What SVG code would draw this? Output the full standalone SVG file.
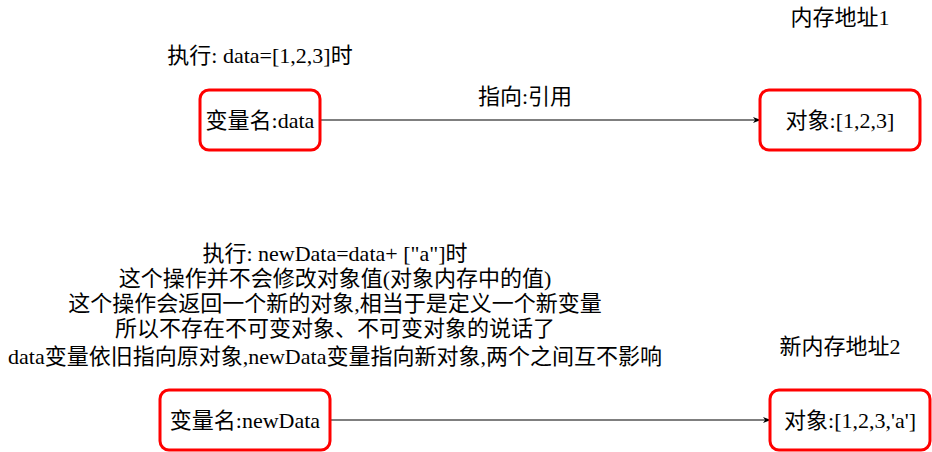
<svg xmlns="http://www.w3.org/2000/svg" width="932" height="452" viewBox="0 0 932 452">
<defs>
<style>
text{font-family:"Liberation Serif","Noto Sans CJK SC",serif;font-size:22px;fill:#000;text-anchor:middle}
.box{fill:#fff;stroke:#ff0000;stroke-width:3}
.edge{stroke:#000;stroke-width:1.2;fill:none}
</style>
<marker id="arr" viewBox="0 0 10 10" refX="9" refY="5" markerWidth="8" markerHeight="8" orient="auto" markerUnits="userSpaceOnUse">
<path d="M0,1 L10,5 L0,9 L3,5 Z" fill="#000"/>
</marker>
</defs>
<rect width="932" height="452" fill="#fff"/>
<g id="connectors">
<line class="edge" x1="320" y1="120" x2="760" y2="120" marker-end="url(#arr)"/>
<line class="edge" x1="330" y1="420" x2="770" y2="420" marker-end="url(#arr)"/>
</g>
<g id="label-exec1"><text x="260" y="63">执行: data=[1,2,3]时</text></g>
<g id="label-mem1"><text x="840" y="25">内存地址1</text></g>
<g id="label-ref"><text x="525" y="104">指向:引用</text></g>
<g id="node-data"><rect class="box" x="200" y="90" width="120" height="60" rx="9"/><text x="260" y="128">变量名:data</text></g>
<g id="node-obj1"><rect class="box" x="760" y="90" width="160" height="60" rx="9"/><text x="840" y="128">对象:[1,2,3]</text></g>
<g id="label-exec2">
<text x="335" y="261">执行: newData=data+ ["a"]时</text>
<text x="335" y="286">这个操作并不会修改对象值(对象内存中的值)</text>
<text x="335" y="311">这个操作会返回一个新的对象,相当于是定义一个新变量</text>
<text x="335" y="336">所以不存在不可变对象、不可变对象的说话了</text>
<text x="335" y="364">data变量依旧指向原对象,newData变量指向新对象,两个之间互不影响</text>
</g>
<g id="label-mem2"><text x="840" y="354">新内存地址2</text></g>
<g id="node-newdata"><rect class="box" x="160" y="390" width="170" height="60" rx="9"/><text x="245" y="428">变量名:newData</text></g>
<g id="node-obj2"><rect class="box" x="770" y="390" width="160" height="60" rx="9"/><text x="850" y="428">对象:[1,2,3,'a']</text></g>
</svg>
